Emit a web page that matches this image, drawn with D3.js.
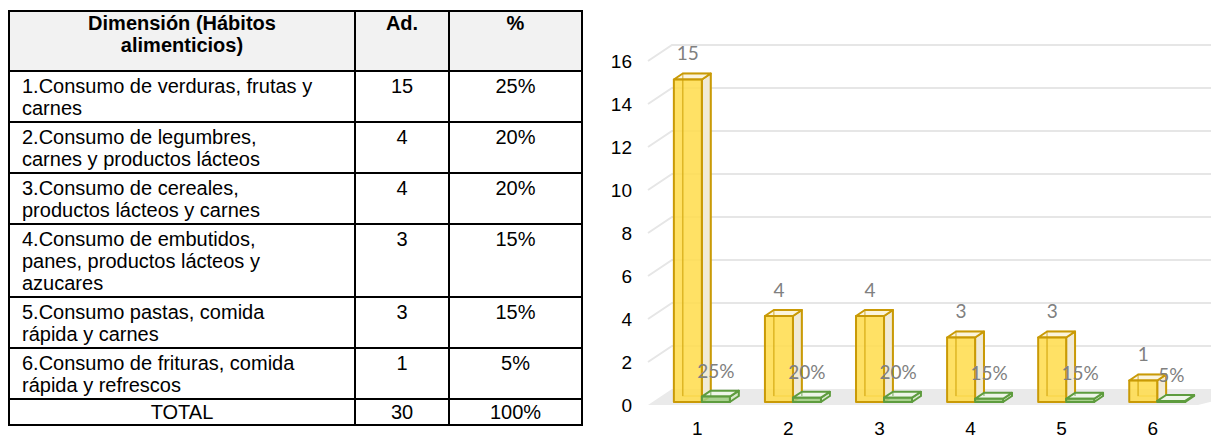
<!DOCTYPE html>
<html>
<head>
<meta charset="utf-8">
<script src="https://cdn.jsdelivr.net/npm/d3@7"></script>
<style>
  html, body { margin: 0; padding: 0; background: #ffffff; }
  svg { display: block; }
</style>
</head>
<body>
<svg id="chart" width="1211" height="438"></svg>
<script>
// ---------------- DATA ----------------
const headerDim = ["Dimensión (Hábitos", "alimenticios)"];
const headerAd = "Ad.";
const headerPct = "%";
const dimensionLines = [
  ["1.Consumo de verduras, frutas y", "carnes"],
  ["2.Consumo de legumbres,", "carnes y productos lácteos"],
  ["3.Consumo de cereales,", "productos lácteos y carnes"],
  ["4.Consumo de embutidos,", "panes, productos lácteos y", "azucares"],
  ["5.Consumo pastas, comida", "rápida y carnes"],
  ["6.Consumo de frituras, comida", "rápida y refrescos"]
];
const categories = ["1", "2", "3", "4", "5", "6"];
const counts = [15, 4, 4, 3, 3, 1];
const percents = [25, 20, 20, 15, 15, 5];
const totalLabel = "TOTAL";
const totalCount = 30;
const totalPct = "100%";
const yTicks = [0, 2, 4, 6, 8, 10, 12, 14, 16];

// ---------------- TABLE ----------------
const svg = d3.select("#chart");
const tbl = svg.append("g");
const colX = [9, 355, 449, 582];
const lineH = 22;
const tableFont = "'Liberation Sans', Arial, sans-serif";
const fs = 20;

const rows = [];
let rowTop = 11;
rows.push({ type: "header", top: rowTop, h: 60 });
rowTop += 60;
dimensionLines.forEach((lines, i) => {
  const h = lines.length * lineH + 7;
  rows.push({ type: "data", top: rowTop, h: h, lines: lines, ad: String(counts[i]), pct: percents[i] + "%" });
  rowTop += h;
});
rows.push({ type: "total", top: rowTop, h: 26 });
const tableBottom = rowTop + 26;

tbl.append("rect").attr("x", colX[0]).attr("y", 11).attr("width", colX[3] - colX[0]).attr("height", 60)
  .attr("fill", "#f2f2f2");

rows.forEach(r => {
  const b = r.top + 19;
  if (r.type === "header") {
    headerDim.forEach((t, j) => {
      tbl.append("text").attr("x", (colX[0] + colX[1]) / 2).attr("y", b + j * lineH)
        .attr("text-anchor", "middle").attr("font-weight", "bold").text(t);
    });
    tbl.append("text").attr("x", (colX[1] + colX[2]) / 2).attr("y", b)
      .attr("text-anchor", "middle").attr("font-weight", "bold").text(headerAd);
    tbl.append("text").attr("x", (colX[2] + colX[3]) / 2).attr("y", b)
      .attr("text-anchor", "middle").attr("font-weight", "bold").text(headerPct);
  } else if (r.type === "data") {
    const bb = r.top + 22;
    r.lines.forEach((t, j) => {
      tbl.append("text").attr("x", 22).attr("y", bb + j * lineH).text(t);
    });
    tbl.append("text").attr("x", (colX[1] + colX[2]) / 2).attr("y", bb).attr("text-anchor", "middle").text(r.ad);
    tbl.append("text").attr("x", (colX[2] + colX[3]) / 2).attr("y", bb).attr("text-anchor", "middle").text(r.pct);
  } else {
    const bb = r.top + 20;
    tbl.append("text").attr("x", (colX[0] + colX[1]) / 2).attr("y", bb).attr("text-anchor", "middle").text(totalLabel);
    tbl.append("text").attr("x", (colX[1] + colX[2]) / 2).attr("y", bb).attr("text-anchor", "middle").text(totalCount);
    tbl.append("text").attr("x", (colX[2] + colX[3]) / 2).attr("y", bb).attr("text-anchor", "middle").text(totalPct);
  }
});
tbl.selectAll("text").attr("font-family", tableFont).attr("font-size", fs).attr("fill", "#000");

const bw = 2;
rows.forEach(r => {
  tbl.append("line").attr("x1", colX[0] - 1).attr("x2", colX[3] + 1).attr("y1", r.top).attr("y2", r.top)
    .attr("stroke", "#000").attr("stroke-width", bw);
});
tbl.append("line").attr("x1", colX[0] - 1).attr("x2", colX[3] + 1).attr("y1", tableBottom).attr("y2", tableBottom)
  .attr("stroke", "#000").attr("stroke-width", bw);
colX.forEach(cx => {
  tbl.append("line").attr("x1", cx).attr("x2", cx).attr("y1", 11).attr("y2", tableBottom)
    .attr("stroke", "#000").attr("stroke-width", bw);
});

// ---------------- 3D COLUMN CHART ----------------
const ch = svg.append("g");
const depthX = 24, depthY = -16;
const wallX = 648;
const y = d3.scaleLinear().domain([0, 16]).range([405, 61]);
const x = d3.scaleBand().domain(categories).range([652, 1198]).paddingInner(0.385).paddingOuter(0.19);
const P = (px, v, d) => [px + d * depthX, y(v) + d * depthY];
const poly = pts => "M" + pts.map(p => p.join(",")).join("L") + "Z";

ch.append("path")
  .attr("d", poly([P(wallX, 0, 0), P(wallX, 0, 1), P(1240, 0, 1), P(x.range()[1], 0, 0)]))
  .attr("fill", "#eaeaea");

ch.selectAll(".grid").data(yTicks.filter(t => t > 0)).join("path")
  .attr("d", t => {
    const a = P(wallX, t, 0), b = P(wallX, t, 1);
    return `M${a[0]},${a[1]}L${b[0]},${b[1]}L1230,${b[1]}`;
  })
  .attr("fill", "none").attr("stroke", "#e6e6e6").attr("stroke-width", 2);

ch.selectAll(".ylab").data(yTicks).join("text")
  .attr("x", 632).attr("y", t => y(t) + 7)
  .attr("text-anchor", "end")
  .attr("font-family", tableFont).attr("font-size", 19).attr("fill", "#000")
  .text(t => t);

ch.selectAll(".xlab").data(categories).join("text")
  .attr("x", c => x(c) + x.bandwidth() / 2)
  .attr("y", 435)
  .attr("text-anchor", "middle")
  .attr("font-family", tableFont).attr("font-size", 19).attr("fill", "#000")
  .text(c => c);

const d0 = 0.19, d1 = 0.56;
function drawBox(g, x0, x1, v, st) {
  g.append("path").attr("d", poly([P(x0, 0, d1), P(x1, 0, d1), P(x1, v, d1), P(x0, v, d1)]))
    .attr("fill", "none").attr("stroke", st.stroke).attr("stroke-width", 1.5).attr("stroke-opacity", 0.6);
  g.append("path").attr("d", poly([P(x1, 0, d0), P(x1, 0, d1), P(x1, v, d1), P(x1, v, d0)]))
    .attr("fill", st.side).attr("stroke", st.stroke).attr("stroke-width", 2).attr("stroke-linejoin", "round");
  g.append("path").attr("d", poly([P(x0, v, d0), P(x1, v, d0), P(x1, v, d1), P(x0, v, d1)]))
    .attr("fill", st.top).attr("stroke", st.stroke).attr("stroke-width", 2).attr("stroke-linejoin", "round");
  g.append("path").attr("d", poly([P(x0, 0, d0), P(x1, 0, d0), P(x1, v, d0), P(x0, v, d0)]))
    .attr("fill", st.front).attr("fill-opacity", 0.85).attr("stroke", st.stroke).attr("stroke-width", 2)
    .attr("stroke-linejoin", "round");
  const a = P(x0, 0, d1), b = P(x0, v, d1);
  g.append("line").attr("x1", a[0]).attr("y1", a[1]).attr("x2", b[0]).attr("y2", b[1])
    .attr("stroke", st.stroke).attr("stroke-width", 1.5).attr("stroke-opacity", 0.55);
}

const yellow = { stroke: "#c99a06", front: "#ffdc4a", side: "#f1ead6", top: "#fbf4dc" };
const green = { stroke: "#5e9c3e", front: "#9fcc80", side: "#d7e8cb", top: "#eef5e8" };
const hw = x.bandwidth() / 2;

categories.forEach((c, i) => {
  const g = ch.append("g");
  drawBox(g, x(c), x(c) + hw, counts[i], yellow);
  drawBox(g, x(c) + hw, x(c) + 2 * hw, percents[i] / 100, green);
});

const labelFont = "Lato, 'Noto Sans', sans-serif";
categories.forEach((c, i) => {
  const p = P(x(c) + hw / 2, counts[i], d0);
  ch.append("text").attr("x", p[0]).attr("y", p[1] - 19).attr("text-anchor", "middle")
    .attr("font-family", labelFont).attr("font-size", 19).attr("fill", "#808080").text(counts[i]);
  const q = P(x(c) + hw * 1.5, percents[i] / 100, d0);
  ch.append("text").attr("x", q[0]).attr("y", q[1] - 19).attr("text-anchor", "middle")
    .attr("font-family", labelFont).attr("font-size", 19).attr("fill", "#808080").text(percents[i] + "%");
});
</script>
</body>
</html>
